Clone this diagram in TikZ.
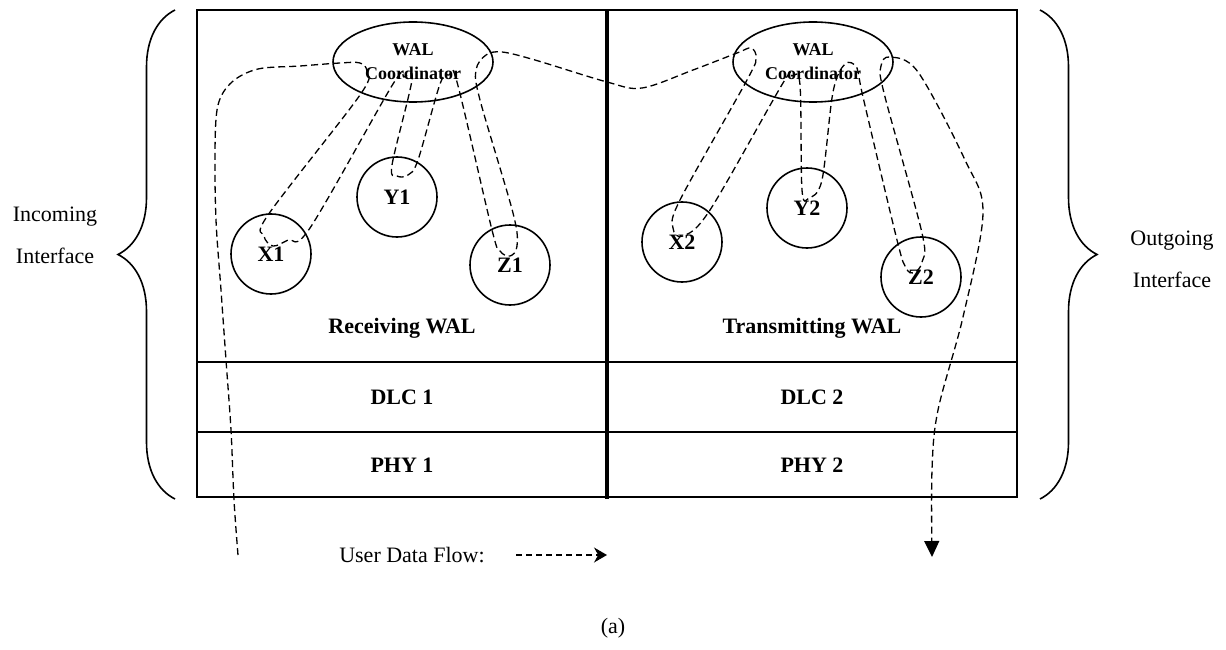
\documentclass[tikz,border=0pt]{standalone}
\usepackage{fontspec}
\setmainfont{Liberation Serif}
\usetikzlibrary{shapes.geometric,arrows.meta,decorations.pathreplacing}

\begin{document}
\begin{tikzpicture}[
      x=1pt, y=-1pt,
      cellline/.style={line width=1.8pt},
      midline/.style={line width=4pt},
      walcoord/.style={draw,ellipse,line width=1.6pt,minimum width=160pt,minimum height=80pt,inner sep=0pt,align=center,font=\fontsize{18}{24}\selectfont\bfseries},
      walnode/.style={draw,circle,line width=1.6pt,minimum size=80pt,inner sep=0pt,font=\fontsize{22}{26}\selectfont\bfseries},
      boldlbl/.style={font=\fontsize{22}{26}\selectfont\bfseries},
      lbl/.style={font=\fontsize{22}{42}\selectfont,align=center},
      flowline/.style={line width=1.3pt,dash pattern=on 7pt off 4pt},
      ifbrace/.style={line width=1.6pt,decorate,decoration={brace,amplitude=57pt}}
    ]
    \useasboundingbox (0,0) rectangle (1226,650);
    % Draw the protocol stack.
    \draw[cellline] (197,10) rectangle (1017,497);
    \draw[cellline] (197,362) -- (1017,362);
    \draw[cellline] (197,432) -- (1017,432);
    \draw[midline] (607,10) -- (607,499);
    \node[boldlbl] (recvwal) at (402,328) {Receiving WAL};
    \node[boldlbl] (transwal) at (812,328) {Transmitting WAL};
    \node[boldlbl] (dlc1) at (402,397) {DLC 1};
    \node[boldlbl] (dlc2) at (812,397) {DLC 2};
    \node[boldlbl] (phy1) at (402,465) {PHY 1};
    \node[boldlbl] (phy2) at (812,465) {PHY 2};
    % Draw the WAL coordinators and their entities.
    \node[walcoord] (coordL) at (413,62) {WAL\\Coordinator};
    \node[walcoord] (coordR) at (813,62) {WAL\\Coordinator};
    \node[walnode] (x1) at (271,254) {X1};
    \node[walnode] (y1) at (397,197) {Y1};
    \node[walnode] (z1) at (510,265) {Z1};
    \node[walnode] (x2) at (682,242) {X2};
    \node[walnode] (y2) at (807,208) {Y2};
    \node[walnode] (z2) at (921,277) {Z2};
    % Draw the interfaces.
    \coordinate (inbot) at (175,499);
    \coordinate (intop) at (175,10);
    \coordinate (outtop) at (1040,10);
    \coordinate (outbot) at (1040,499);
    \draw[ifbrace] (inbot) -- (intop);
    \draw[ifbrace] (outtop) -- (outbot);
    \node[lbl] (inif) at (55,235) {Incoming\\Interface};
    \node[lbl] (outif) at (1172,259) {Outgoing\\Interface};
    % Draw the user data flow.
    \coordinate (flowin) at (238,555);
    \coordinate (flowout) at (932,557);
    \draw[flowline,-{Triangle[length=16pt,width=15pt]}] plot[smooth,tension=0.55] coordinates {
      (flowin) (234,500) (231,430) (226,360) (221,290) (216,220) (215,150)
      (218,105) (232,82) (258,69) (300,66) (340,63) (360,63) (367,72)
      (360,95) (268,215) (264,236) (273,246) (288,240) (310,228) (393,84)
      (404,77) (412,80) (392,165) (397,176) (408,175) (418,160) (440,84)
      (449,75) (457,82) (492,230) (500,251) (510,256) (517,246) (513,213)
      (480,100) (476,70) (486,55) (502,52) (535,60) (607,82) (642,88)
      (693,70) (737,53) (751,48) (756,58) (747,80) (680,200) (673,228)
      (683,236) (710,210) (783,83) (792,76) (800,85) (802,190) (809,198)
      (822,180) (833,92) (845,64) (857,68) (863,97) (897,240) (906,268)
      (914,273) (922,262) (922,233) (884,93) (881,66) (890,57) (918,72)
      (965,160) (983,213) (963,317) (938,410) (932,470) (flowout)};
    % Legend.
    \node[lbl] (legend) at (412,555) {User Data Flow:};
    \coordinate (legendend) at (607,555);
    \draw[flowline,dash pattern=on 6pt off 4pt,-{Stealth[length=13pt,width=15pt]}] ([xshift=28pt]legend.east) -- (legendend);
    \node[lbl] (caption) at (613,628) {(a)};
\end{tikzpicture}
\end{document}
